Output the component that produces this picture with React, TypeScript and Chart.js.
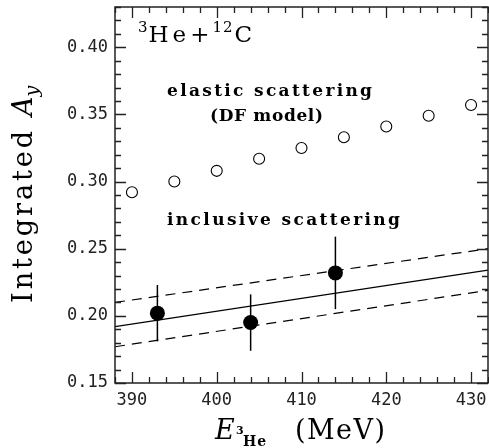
import React, { useEffect, useRef } from "react";
import { Chart, registerables } from "chart.js";

Chart.register(...registerables);

// ---- data ----
const elasticEnergy = [390, 395, 400, 405, 410, 415, 420, 425, 430];
const elasticAy = [0.292, 0.3, 0.308, 0.317, 0.325, 0.333, 0.341, 0.349, 0.357];

const inclusiveEnergy = [393, 404, 414];
const inclusiveAy = [0.202, 0.195, 0.232];
const inclusiveErr = [0.021, 0.021, 0.027];

const fitEnergy = [388, 432];
const fitCentral = [0.192, 0.234];
const fitUpper = [0.21, 0.25];
const fitLower = [0.177, 0.219];

const xTickValues = [390, 400, 410, 420, 430];
const yTickValues = [0.15, 0.2, 0.25, 0.3, 0.35, 0.4];

const X_MIN = 388;
const X_MAX = 432;
const Y_MIN = 0.15;
const Y_MAX = 0.43;

type Run = { t: string; font: string; dy?: number; ls?: number; gap?: number };

function drawRuns(ctx: CanvasRenderingContext2D, runs: Run[], x: number, y: number) {
  let cx = x;
  for (const r of runs) {
    ctx.font = r.font;
    (ctx as any).letterSpacing = (r.ls ?? 0) + "px";
    ctx.fillText(r.t, cx, y + (r.dy ?? 0));
    cx += ctx.measureText(r.t).width + (r.gap ?? 0);
  }
  (ctx as any).letterSpacing = "0px";
}

function fitSpacing(ctx: CanvasRenderingContext2D, text: string, font: string, target: number) {
  ctx.font = font;
  (ctx as any).letterSpacing = "0px";
  const w = ctx.measureText(text).width;
  return (target - w) / Math.max(1, text.length - 1);
}

const decorPlugin = {
  id: "decor",
  beforeDatasetsDraw(chart: any) {
    const { ctx, scales } = chart;
    const x = scales.x;
    const y = scales.y;
    ctx.save();
    ctx.strokeStyle = "#000";
    ctx.lineWidth = 1.5;
    inclusiveEnergy.forEach((e, i) => {
      const px = x.getPixelForValue(e);
      ctx.beginPath();
      ctx.moveTo(px, y.getPixelForValue(inclusiveAy[i] - inclusiveErr[i]));
      ctx.lineTo(px, y.getPixelForValue(inclusiveAy[i] + inclusiveErr[i]));
      ctx.stroke();
    });
    ctx.restore();
  },
  afterDraw(chart: any) {
    const { ctx, chartArea: a, scales } = chart;
    const x = scales.x;
    const y = scales.y;
    ctx.save();
    ctx.strokeStyle = "#222";
    ctx.lineWidth = 1.3;
    ctx.beginPath();
    for (let k = X_MIN; k <= X_MAX; k += 2) {
      const len = k % 10 === 0 ? 11 : 6;
      const px = Math.round(x.getPixelForValue(k)) + 0.5;
      ctx.moveTo(px, a.bottom);
      ctx.lineTo(px, a.bottom - len);
      ctx.moveTo(px, a.top);
      ctx.lineTo(px, a.top + len);
    }
    for (let k = Math.round(Y_MIN * 100); k <= Math.round(Y_MAX * 100); k += 1) {
      const len = k % 5 === 0 ? 11 : 6;
      const py = Math.round(y.getPixelForValue(k / 100)) + 0.5;
      ctx.moveTo(a.left, py);
      ctx.lineTo(a.left + len, py);
      ctx.moveTo(a.right, py);
      ctx.lineTo(a.right - len, py);
    }
    ctx.stroke();
    ctx.lineWidth = 1.5;
    ctx.strokeRect(a.left, a.top, a.right - a.left, a.bottom - a.top);

    // ---- text ----
    ctx.fillStyle = "#000";
    ctx.textBaseline = "alphabetic";
    ctx.textAlign = "left";
    const serif = '"DejaVu Serif"';

    // reaction label
    drawRuns(
      ctx,
      [
        { t: "3", font: `15px ${serif}`, dy: -10, ls: 0, gap: 1 },
        { t: "He", font: `23px ${serif}`, ls: 4, gap: 0 },
        { t: "+", font: `23px ${serif}`, ls: 3, gap: 0 },
        { t: "12", font: `15px ${serif}`, dy: -10, ls: 1, gap: 1 },
        { t: "C", font: `23px ${serif}`, ls: 0 },
      ],
      138,
      42
    );

    // annotations
    const annFont = `bold 17px ${serif}`;
    const ann = (t: string, left: number, width: number, base: number) => {
      const ls = fitSpacing(ctx, t, annFont, width);
      drawRuns(ctx, [{ t, font: annFont, ls }], left, base);
    };
    ann("elastic scattering", 167, 205, 96);
    ann("(DF model)", 210, 113, 121);
    ann("inclusive scattering", 167, 233, 225);

    // y title (rotated)
    ctx.save();
    ctx.translate(32, 303);
    ctx.rotate(-Math.PI / 2);
    const yFont = `27px ${serif}`;
    const yls = fitSpacing(ctx, "Integrated", yFont, 172);
    drawRuns(
      ctx,
      [
        { t: "Integrated", font: yFont, ls: yls, gap: 12 },
        { t: "A", font: `italic 27px ${serif}`, ls: 0, gap: 0 },
        { t: "y", font: `italic 19px ${serif}`, dy: 6, ls: 0 },
      ],
      0,
      0
    );
    ctx.restore();

    // x title
    const mevFont = `27px ${serif}`;
    const mls = fitSpacing(ctx, "(MeV)", mevFont, 90);
    drawRuns(ctx, [{ t: "E", font: `italic 27px ${serif}` }], 215, 439);
    drawRuns(ctx, [{ t: "3", font: `bold 11px ${serif}` }], 236, 434);
    drawRuns(ctx, [{ t: "He", font: `bold 14px ${serif}`, ls: 1 }], 243, 446);
    drawRuns(ctx, [{ t: "(MeV)", font: mevFont, ls: mls }], 295, 439);

    ctx.restore();
  },
};

export default function App() {
  const ref = useRef<HTMLCanvasElement | null>(null);

  useEffect(() => {
    if (!ref.current) return;
    const toXY = (xs: number[], ys: number[]) => xs.map((v, i) => ({ x: v, y: ys[i] }));
    const chart = new Chart(ref.current, {
      type: "scatter",
      data: {
        datasets: [
          {
            label: "inclusive",
            data: toXY(inclusiveEnergy, inclusiveAy),
            backgroundColor: "#000",
            borderColor: "#000",
            pointRadius: 7.5,
            pointBorderWidth: 0,
            showLine: false,
            order: 0,
          },
          {
            label: "elastic DF",
            data: toXY(elasticEnergy, elasticAy),
            backgroundColor: "rgba(255,255,255,0)",
            borderColor: "#000",
            pointRadius: 5.5,
            pointBorderWidth: 1.1,
            showLine: false,
            order: 1,
          },
          {
            label: "fit",
            data: toXY(fitEnergy, fitCentral),
            borderColor: "#000",
            borderWidth: 1.2,
            pointRadius: 0,
            showLine: true,
            order: 2,
          },
          {
            label: "fit upper",
            data: toXY(fitEnergy, fitUpper),
            borderColor: "#000",
            borderWidth: 1.2,
            borderDash: [10, 7],
            pointRadius: 0,
            showLine: true,
            order: 3,
          },
          {
            label: "fit lower",
            data: toXY(fitEnergy, fitLower),
            borderColor: "#000",
            borderWidth: 1.2,
            borderDash: [10, 7],
            pointRadius: 0,
            showLine: true,
            order: 4,
          },
        ],
      },
      options: {
        animation: false,
        responsive: false,
        maintainAspectRatio: false,
        layout: { autoPadding: false, padding: { top: 7, right: 1, left: 0, bottom: 0 } },
        plugins: { legend: { display: false }, tooltip: { enabled: false } },
        scales: {
          x: {
            type: "linear",
            min: X_MIN,
            max: X_MAX,
            grid: { display: false, drawTicks: false },
            border: { display: false },
            afterBuildTicks: (s: any) => {
              s.ticks = xTickValues.map((v) => ({ value: v }));
            },
            afterFit: (s: any) => {
              s.height = 65;
              s.paddingLeft = 0;
              s.paddingRight = 0;
            },
            ticks: {
              padding: 7,
              color: "#222",
              font: { family: '"DejaVu Sans Mono"', size: 17 },
              callback: (v: any) => String(v),
            },
          },
          y: {
            type: "linear",
            min: Y_MIN,
            max: Y_MAX,
            grid: { display: false, drawTicks: false },
            border: { display: false },
            afterBuildTicks: (s: any) => {
              s.ticks = yTickValues.map((v) => ({ value: v }));
            },
            afterFit: (s: any) => {
              s.width = 115;
              s.paddingTop = 0;
              s.paddingBottom = 0;
            },
            ticks: {
              padding: 7,
              color: "#222",
              font: { family: '"DejaVu Sans Mono"', size: 17 },
              callback: (v: any) => Number(v).toFixed(2),
            },
          },
        },
      },
      plugins: [decorPlugin],
    } as any);
    return () => chart.destroy();
  }, []);

  return (
    <div style={{ position: "absolute", left: 0, top: 0, width: 489, height: 448, background: "#fff" }}>
      <canvas ref={ref} width={489} height={448} style={{ display: "block", width: 489, height: 448 }} />
    </div>
  );
}
